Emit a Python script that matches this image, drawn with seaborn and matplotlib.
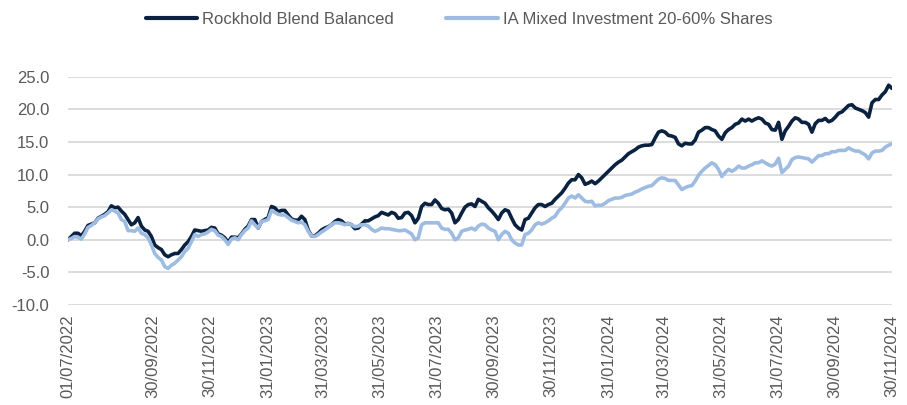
import numpy as np
import pandas as pd
import matplotlib
matplotlib.use("Agg")
import matplotlib.pyplot as plt
import matplotlib.dates as mdates
import seaborn as sns

# ---------------- data ----------------
START = "2022-07-01"
END = "2024-11-30"
series_names = ["Rockhold Blend Balanced", "IA Mixed Investment 20-60% Shares"]

rockhold = [
    0.0, 0.5, 1.0, 1.0, 0.6, 1.3, 2.2, 2.4, 2.6, 3.3,
    3.6, 3.9, 4.3, 5.2, 4.9, 5.0, 4.4, 3.9, 3.1, 2.3,
    2.6, 3.4, 2.1, 1.5, 1.3, 0.5, -0.8, -1.2, -1.5, -2.3,
    -2.6, -2.3, -2.1, -2.1, -1.5, -0.8, -0.3, 0.5, 1.5, 1.4,
    1.3, 1.4, 1.5, 1.9, 1.8, 0.9, 0.7, 0.3, -0.4, 0.4,
    0.4, 0.3, 0.9, 1.6, 2.1, 3.1, 3.1, 1.8, 2.8, 3.1,
    3.4, 5.1, 4.9, 4.3, 4.5, 4.5, 3.8, 3.2, 3.0, 3.0,
    3.6, 3.1, 1.5, 0.6, 0.6, 1.0, 1.5, 1.8, 2.0, 2.3,
    2.8, 3.1, 2.9, 2.4, 2.5, 2.3, 1.7, 1.8, 2.4, 2.9,
    2.9, 3.2, 3.5, 3.7, 4.2, 4.0, 3.8, 4.2, 4.0, 3.3,
    3.4, 4.1, 4.2, 3.7, 2.6, 3.3, 5.1, 5.6, 5.4, 5.4,
    6.1, 5.6, 4.8, 4.6, 4.7, 4.1, 2.6, 3.1, 4.1, 5.0,
    5.4, 5.5, 5.1, 6.2, 5.9, 5.6, 4.9, 4.4, 3.8, 3.1,
    4.1, 4.6, 4.4, 3.3, 2.3, 1.8, 1.5, 3.1, 3.3, 4.1,
    4.9, 5.4, 5.4, 5.1, 5.4, 5.6, 6.2, 6.7, 7.2, 7.9,
    8.7, 9.2, 9.2, 10.0, 9.5, 8.5, 8.7, 9.0, 8.6, 9.0,
    9.5, 10.0, 10.5, 11.0, 11.5, 11.9, 12.2, 12.7, 13.2, 13.5,
    13.8, 14.2, 14.4, 14.5, 14.5, 14.6, 15.6, 16.5, 16.7, 16.5,
    16.0, 15.9, 15.7, 14.7, 14.4, 14.8, 14.7, 14.7, 15.3, 16.5,
    16.8, 17.2, 17.2, 16.9, 16.7, 15.9, 15.4, 16.4, 16.9, 17.2,
    17.7, 17.9, 18.5, 18.2, 18.5, 18.2, 18.5, 18.7, 18.5, 17.9,
    17.7, 16.9, 16.8, 18.0, 15.4, 16.7, 17.4, 18.2, 18.7, 18.5,
    18.0, 18.0, 17.7, 16.5, 17.8, 18.3, 18.3, 18.6, 18.1, 18.3,
    18.8, 19.4, 19.6, 20.1, 20.6, 20.7, 20.2, 20.0, 19.8, 19.5,
    18.8, 21.0, 21.5, 21.5, 22.2, 22.7, 23.7, 23.2,
]

ia_mixed = [
    0.0, 0.2, 0.5, 0.4, 0.1, 0.9, 1.9, 2.2, 2.6, 3.2,
    3.5, 3.7, 4.1, 4.6, 4.4, 4.1, 3.1, 2.8, 1.4, 1.4,
    1.3, 1.8, 1.0, 0.8, 0.3, -0.8, -2.1, -2.7, -3.1, -4.1,
    -4.4, -3.9, -3.6, -3.1, -2.6, -1.8, -1.3, -0.3, 0.8, 0.5,
    0.8, 0.9, 1.2, 1.6, 1.4, 0.7, 0.5, 0.0, -0.7, 0.1,
    0.3, 0.0, 0.8, 1.4, 1.8, 2.9, 2.3, 1.8, 2.8, 2.9,
    3.1, 4.5, 4.2, 3.9, 3.8, 3.8, 3.4, 3.0, 2.8, 2.6,
    2.7, 2.3, 1.3, 0.6, 0.5, 0.8, 1.2, 1.5, 1.9, 2.3,
    2.6, 2.6, 2.5, 2.3, 2.5, 2.3, 2.0, 2.1, 2.3, 2.3,
    2.1, 1.6, 1.3, 1.5, 1.8, 1.7, 1.7, 1.6, 1.5, 1.4,
    1.4, 1.5, 1.2, 0.9, 0.0, 0.3, 2.3, 2.6, 2.6, 2.6,
    2.6, 2.6, 1.8, 1.6, 1.6, 1.0, 0.0, 0.3, 1.3, 1.5,
    1.6, 1.8, 1.5, 2.1, 2.4, 2.3, 1.8, 1.5, 1.3, 0.0,
    0.8, 1.3, 1.0, 0.0, -0.5, -0.8, -0.8, 0.8, 1.0, 1.5,
    2.3, 2.6, 2.4, 2.6, 2.9, 3.3, 3.6, 4.4, 4.9, 5.6,
    6.4, 6.7, 6.4, 6.9, 6.4, 5.9, 5.8, 5.9, 5.2, 5.3,
    5.3, 5.6, 6.0, 6.2, 6.4, 6.4, 6.5, 6.8, 6.9, 7.0,
    7.3, 7.5, 7.8, 8.0, 8.2, 8.3, 8.8, 9.3, 9.5, 9.4,
    9.1, 9.1, 9.1, 8.4, 7.7, 8.0, 8.2, 8.3, 9.0, 9.9,
    10.5, 11.0, 11.4, 11.8, 11.5, 10.8, 9.7, 10.3, 10.8, 10.5,
    10.8, 11.3, 11.0, 11.0, 11.3, 11.5, 11.8, 11.8, 12.1, 11.8,
    11.5, 11.3, 11.6, 12.5, 10.3, 10.8, 11.3, 12.3, 12.6, 12.7,
    12.6, 12.5, 12.4, 11.9, 12.4, 12.9, 12.9, 13.2, 13.2, 13.5,
    13.5, 13.7, 13.7, 13.7, 14.1, 13.8, 13.6, 13.6, 13.3, 13.0,
    12.4, 13.3, 13.6, 13.6, 13.7, 14.2, 14.5, 14.7,
]

tick_dates = [
    "2022-07-01", "2022-09-30", "2022-11-30", "2023-01-31", "2023-03-31",
    "2023-05-31", "2023-07-31", "2023-09-30", "2023-11-30", "2024-01-31",
    "2024-03-31", "2024-05-31", "2024-07-31", "2024-09-30", "2024-11-30",
]
y_ticks = [-10, -5, 0, 5, 10, 15, 20, 25]

# ---------------- build frame ----------------
dates = pd.date_range(START, END, periods=len(rockhold))
df = pd.DataFrame({
    "Date": list(dates) * 2,
    "Value": rockhold + ia_mixed,
    "Series": [series_names[0]] * len(rockhold) + [series_names[1]] * len(ia_mixed),
})

# ---------------- style ----------------
sns.set_theme(style="white")
plt.rcParams["font.family"] = ["Liberation Sans", "DejaVu Sans"]

DARK = "#0A2240"
LIGHT = "#9EBBE2"
TEXT = "#595959"
GRID = "#D9D9D9"

fig = plt.figure(figsize=(9.07, 4.05), dpi=100)
ax = fig.add_axes([68 / 907, 1 - 305 / 405, (892 - 68) / 907, (305 - 76.7) / 405])

sns.lineplot(data=df, x="Date", y="Value", hue="Series",
             hue_order=series_names, palette=[DARK, LIGHT],
             linewidth=2.6, ax=ax, estimator=None, sort=False)

ax.set_xlim(dates[0], dates[-1])
ax.set_ylim(-10, 25)
ax.set_yticks(y_ticks)
ax.set_yticklabels([f"{v:.1f}" for v in y_ticks])
ax.set_xticks(pd.to_datetime(tick_dates))
ax.xaxis.set_major_formatter(mdates.DateFormatter("%d/%m/%Y"))
plt.setp(ax.get_xticklabels(), rotation=90, ha="center", va="top")

ax.grid(axis="y", color=GRID, linewidth=1.3)
ax.grid(axis="x", visible=False)
ax.set_axisbelow(True)
for s in ax.spines.values():
    s.set_visible(False)
ax.tick_params(axis="y", length=0, pad=13.5, labelsize=12, labelcolor=TEXT)
ax.tick_params(axis="x", length=0, pad=7, labelsize=12, labelcolor=TEXT)
ax.set_xlabel("")
ax.set_ylabel("")

handles, labels = ax.get_legend_handles_labels()
if ax.legend_ is not None:
    ax.legend_.remove()
leg = fig.legend(handles, labels, loc="center", bbox_to_anchor=(0.506, 1 - 19 / 405),
                 ncol=2, frameon=False, handlelength=3.1, handletextpad=0.3,
                 columnspacing=3.1, fontsize=12)
for t in leg.get_texts():
    t.set_color(TEXT)
for h in leg.get_lines():
    h.set_linewidth(3.0)

fig.savefig("out.png", dpi=100)
